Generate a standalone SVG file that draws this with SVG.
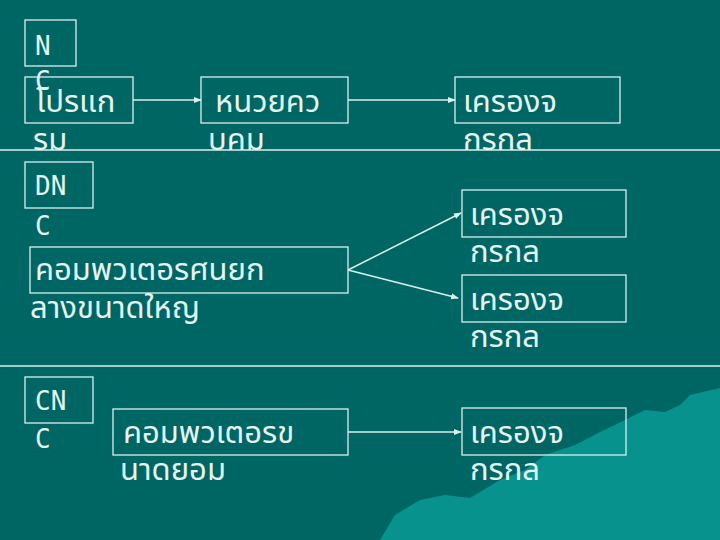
<svg xmlns="http://www.w3.org/2000/svg" width="720" height="540" viewBox="0 0 720 540">
<style>
.b{fill:none;stroke:#d8f0ee;stroke-width:1.3}
.t{fill:#e4f4f2;font-family:"Noto Sans","Noto Sans Thai",sans-serif;font-size:31px}
.l{fill:#e4f4f2;font-family:"DejaVu Sans Mono","Liberation Mono",monospace;font-size:26px}
.c{stroke:#d8f0ee;stroke-width:1.5;fill:none;marker-end:url(#a)}
</style>
<defs><marker id="a" markerWidth="8" markerHeight="8" refX="7" refY="4" orient="auto" markerUnits="userSpaceOnUse"><path d="M0,1 L8,4 L0,7 Z" fill="#d8f0ee"/></marker></defs>
<rect width="720" height="540" fill="#006664"/>
<path d="M380,540 L395,515 L420,500 L445,495 L470,498 L500,480 L525,470 L545,455 L575,445 L600,432 L625,420 L645,410 L665,412 L680,405 L690,395 L720,388 L720,540 Z" fill="#08928e"/>
<line x1="0" y1="150" x2="720" y2="150" stroke="#d8f0ee" stroke-width="1.3"/>
<line x1="0" y1="366" x2="720" y2="366" stroke="#d8f0ee" stroke-width="1.3"/>
<g id="connectors">
<line class="c" x1="133" y1="100" x2="201" y2="100"/>
<line class="c" x1="348" y1="100" x2="455" y2="100"/>
<line class="c" x1="348" y1="270" x2="461" y2="213"/>
<line class="c" x1="348" y1="270" x2="458" y2="298"/>
<line class="c" x1="348" y1="432" x2="461" y2="432"/>
</g>
<g id="nc"><rect class="b" x="25" y="20" width="51" height="46"/><text class="l" x="35" y="55">N</text><text class="l" x="35" y="90">C</text></g>
<g id="prog"><rect class="b" x="25" y="77" width="108" height="46"/><text class="t" x="36" y="112">โปรแก</text><text class="t" x="33" y="150">รม</text></g>
<g id="unit"><rect class="b" x="201" y="77" width="147" height="46"/><text class="t" x="215" y="112">หนวยคว</text><text class="t" x="208" y="150">บคม</text></g>
<g id="m1"><rect class="b" x="455" y="77" width="165" height="46"/><text class="t" x="463" y="112">เครองจ</text><text class="t" x="463" y="150">กรกล</text></g>
<g id="dnc"><rect class="b" x="25" y="162" width="68" height="46"/><text class="l" x="35" y="195">DN</text><text class="l" x="35" y="235">C</text></g>
<g id="main"><rect class="b" x="30" y="247" width="318" height="46"/><text class="t" x="35" y="280">คอมพวเตอรศนยก</text><text class="t" x="30" y="318">ลางขนาดใหญ</text></g>
<g id="m2"><rect class="b" x="462" y="190" width="164" height="47"/><text class="t" x="470" y="225">เครองจ</text><text class="t" x="470" y="262">กรกล</text></g>
<g id="m3"><rect class="b" x="462" y="275" width="164" height="47"/><text class="t" x="470" y="310">เครองจ</text><text class="t" x="470" y="347">กรกล</text></g>
<g id="cnc"><rect class="b" x="25" y="377" width="68" height="46"/><text class="l" x="35" y="410">CN</text><text class="l" x="35" y="448">C</text></g>
<g id="mini"><rect class="b" x="113" y="409" width="235" height="46"/><text class="t" x="123" y="443">คอมพวเตอรข</text><text class="t" x="120" y="480">นาดยอม</text></g>
<g id="m4"><rect class="b" x="462" y="408" width="164" height="47"/><text class="t" x="470" y="443">เครองจ</text><text class="t" x="470" y="480">กรกล</text></g>
</svg>
